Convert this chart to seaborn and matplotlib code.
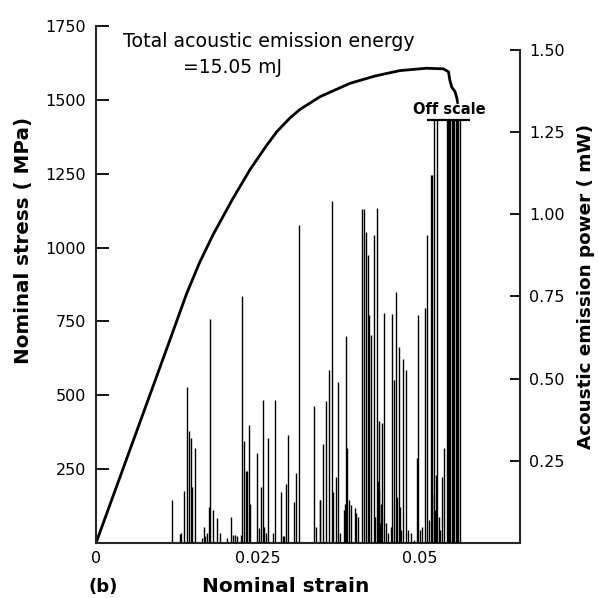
import numpy as np
import pandas as pd
import seaborn as sns
import matplotlib.pyplot as plt

# stress-strain curve
strain = [0, 0.0114, 0.0140, 0.0160, 0.0181, 0.0211, 0.0238, 0.0263, 0.0279,
          0.0299, 0.0315, 0.0346, 0.0392, 0.0431, 0.0469, 0.0510, 0.0536,
          0.0544, 0.0546, 0.0549, 0.0554, 0.0557, 0.0558]
stress = [0, 687, 845, 950, 1045, 1165, 1265, 1345, 1392, 1438, 1468, 1511,
          1556, 1581, 1599, 1607, 1605, 1595, 1567, 1543, 1528, 1505, 1490]

# acoustic emission bursts: strain position and power (mW)
ae_strain = [0.0118, 0.0130, 0.0131, 0.0136, 0.0141, 0.0144, 0.0146, 0.0148,
             0.0153, 0.0164, 0.0166, 0.0168, 0.0171, 0.0174, 0.0176, 0.0181,
             0.0187, 0.0191, 0.0202, 0.0208, 0.0211, 0.0214, 0.0218, 0.0223,
             0.0226, 0.0228, 0.0231, 0.0233, 0.0236, 0.0238, 0.0248, 0.0251,
             0.0255, 0.0258, 0.0260, 0.0263, 0.0265, 0.0273, 0.0276, 0.0285,
             0.0288, 0.0290, 0.0293, 0.0297, 0.0305, 0.0309, 0.0313, 0.0337,
             0.0340, 0.0345, 0.0346, 0.0350, 0.0355, 0.0359, 0.0364, 0.0366,
             0.0370, 0.0373, 0.0376, 0.0382, 0.0384, 0.0386, 0.0388, 0.0390,
             0.0394, 0.0399, 0.0402, 0.0405, 0.0411, 0.0414, 0.0416, 0.0419,
             0.0422, 0.0425, 0.0429, 0.0430, 0.0433, 0.0435, 0.0436, 0.0437,
             0.0438, 0.0440, 0.0441, 0.0445, 0.0447, 0.0451, 0.0455, 0.0457,
             0.0460, 0.0463, 0.0465, 0.0467, 0.0469, 0.0471, 0.0474, 0.0478,
             0.0482, 0.0486, 0.0491, 0.0495, 0.0497, 0.0500, 0.0503, 0.0508,
             0.0511, 0.0514, 0.0517, 0.0518, 0.0519, 0.0521, 0.0523, 0.0525,
             0.0527, 0.0529, 0.0531, 0.0534, 0.0537, 0.0541, 0.0543, 0.0545,
             0.0547, 0.0549, 0.0551, 0.0553, 0.0555, 0.0557, 0.0559, 0.0561]
ae_power = [0.13, 0.027, 0.03, 0.158, 0.475, 0.34, 0.32, 0.17,
            0.29, 0.015, 0.05, 0.02, 0.03, 0.11, 0.68, 0.10,
            0.077, 0.03, 0.015, 0.08, 0.025, 0.025, 0.022, 0.025,
            0.75, 0.31, 0.22, 0.22, 0.36, 0.12, 0.275, 0.045,
            0.17, 0.435, 0.05, 0.03, 0.32, 0.03, 0.435, 0.156,
            0.02, 0.02, 0.18, 0.33, 0.126, 0.214, 0.967, 0.418,
            0.05, 0.13, 0.13, 0.30, 0.433, 0.526, 1.04, 0.156,
            0.20, 0.49, 0.03, 0.10, 0.12, 0.63, 0.29, 0.13,
            0.115, 0.106, 0.09, 0.08, 1.016, 1.016, 0.947, 0.876,
            0.694, 0.633, 0.937, 0.08, 1.018, 0.19, 0.16, 0.37,
            0.06, 0.12, 0.365, 0.70, 0.06, 0.03, 0.05, 0.697,
            0.496, 0.765, 0.14, 0.597, 0.11, 0.04, 0.56, 0.526,
            0.04, 0.03, 0.01, 0.26, 0.694, 0.04, 0.05, 0.715,
            0.937, 0.07, 1.12, 1.12, 0.15, 1.287, 0.10, 0.207,
            1.287, 0.08, 0.04, 0.20, 0.29, 1.287, 1.287, 1.287,
            1.287, 1.287, 1.287, 1.287, 1.287, 1.287, 1.287, 1.287]

stress_ticks = [250, 500, 750, 1000, 1250, 1500, 1750]
power_ticks = [0.25, 0.50, 0.75, 1.00, 1.25, 1.50]
strain_ticks = [0, 0.025, 0.05]
strain_labels = ['0', '0.025', '0.05']
off_scale_level = 1.287

sns.set_style("ticks")
plt.rcParams['font.family'] = ['DejaVu Sans']
plt.rcParams['ytick.direction'] = 'in'
plt.rcParams['xtick.direction'] = 'in'
plt.rcParams['text.color'] = 'black'
plt.rcParams['xtick.color'] = 'black'
plt.rcParams['ytick.color'] = 'black'
plt.rcParams['axes.labelcolor'] = 'black'

curve = pd.DataFrame({'strain': strain, 'stress': stress})

fig = plt.figure(figsize=(5.99, 5.98), dpi=100)
ax = fig.add_axes([96 / 599, 55 / 598, 424 / 599, 517 / 598])
ax2 = ax.twinx()

# AE bursts on the right axis
ax2.vlines(ae_strain, 0, ae_power, color='black', lw=1.0)
ax2.hlines(off_scale_level, 0.0511, 0.0577, color='black', lw=1.6)
ax2.text(0.0546, 1.318, 'Off scale', ha='center', va='center',
         fontsize=10.5, fontweight='bold')

# stress curve on the left axis
sns.lineplot(data=curve, x='strain', y='stress', ax=ax, color='black',
             lw=2.0, sort=False, estimator=None)

ax.set_xlim(0, 424 / 6480)
ax.set_ylim(0, 1750)
ax2.set_ylim(0, 517 / 328.7)

ax.set_yticks(stress_ticks)
ax.set_xticks(strain_ticks)
ax.set_xticklabels(strain_labels)
ax2.set_yticks(power_ticks)
ax2.set_yticklabels(['%.2f' % v for v in power_ticks])

ax.tick_params(axis='y', direction='in', length=9, width=1.3, labelsize=11.5, pad=7)
ax.tick_params(axis='x', length=0, labelsize=11.5, pad=6)
ax2.tick_params(axis='y', direction='in', length=7, width=1.3, labelsize=11.5, pad=6.5)

for a in (ax, ax2):
    a.spines['top'].set_visible(False)
    for s in a.spines.values():
        s.set_linewidth(1.5)
ax.spines['right'].set_visible(False)
ax2.spines['left'].set_visible(False)
ax2.spines['bottom'].set_visible(False)
ax2.spines['right'].set_bounds(0, 1.5)

ax.set_xlabel('Nominal strain', fontsize=14.5, fontweight='bold')
ax.set_ylabel('Nominal stress ( MPa)', fontsize=14.3, fontweight='bold')
ax2.set_ylabel('Acoustic emission power ( mW)', fontsize=13.2, fontweight='bold')
ax.xaxis.set_label_coords(0.448, -0.066)
ax.yaxis.set_label_coords(-0.149, 0.586)
ax2.yaxis.set_label_coords(1.134, 0.497)

ax.text(0.0042, 1696, 'Total acoustic emission energy', fontsize=13.7,
        ha='left', va='center')
ax.text(0.0210, 1608, '=15.05 mJ', fontsize=13.5, ha='center', va='center')
fig.text(103 / 599, 1 - 587 / 598, '(b)', fontsize=13, fontweight='bold',
         ha='center', va='center')

fig.savefig('out.png', dpi=100)
